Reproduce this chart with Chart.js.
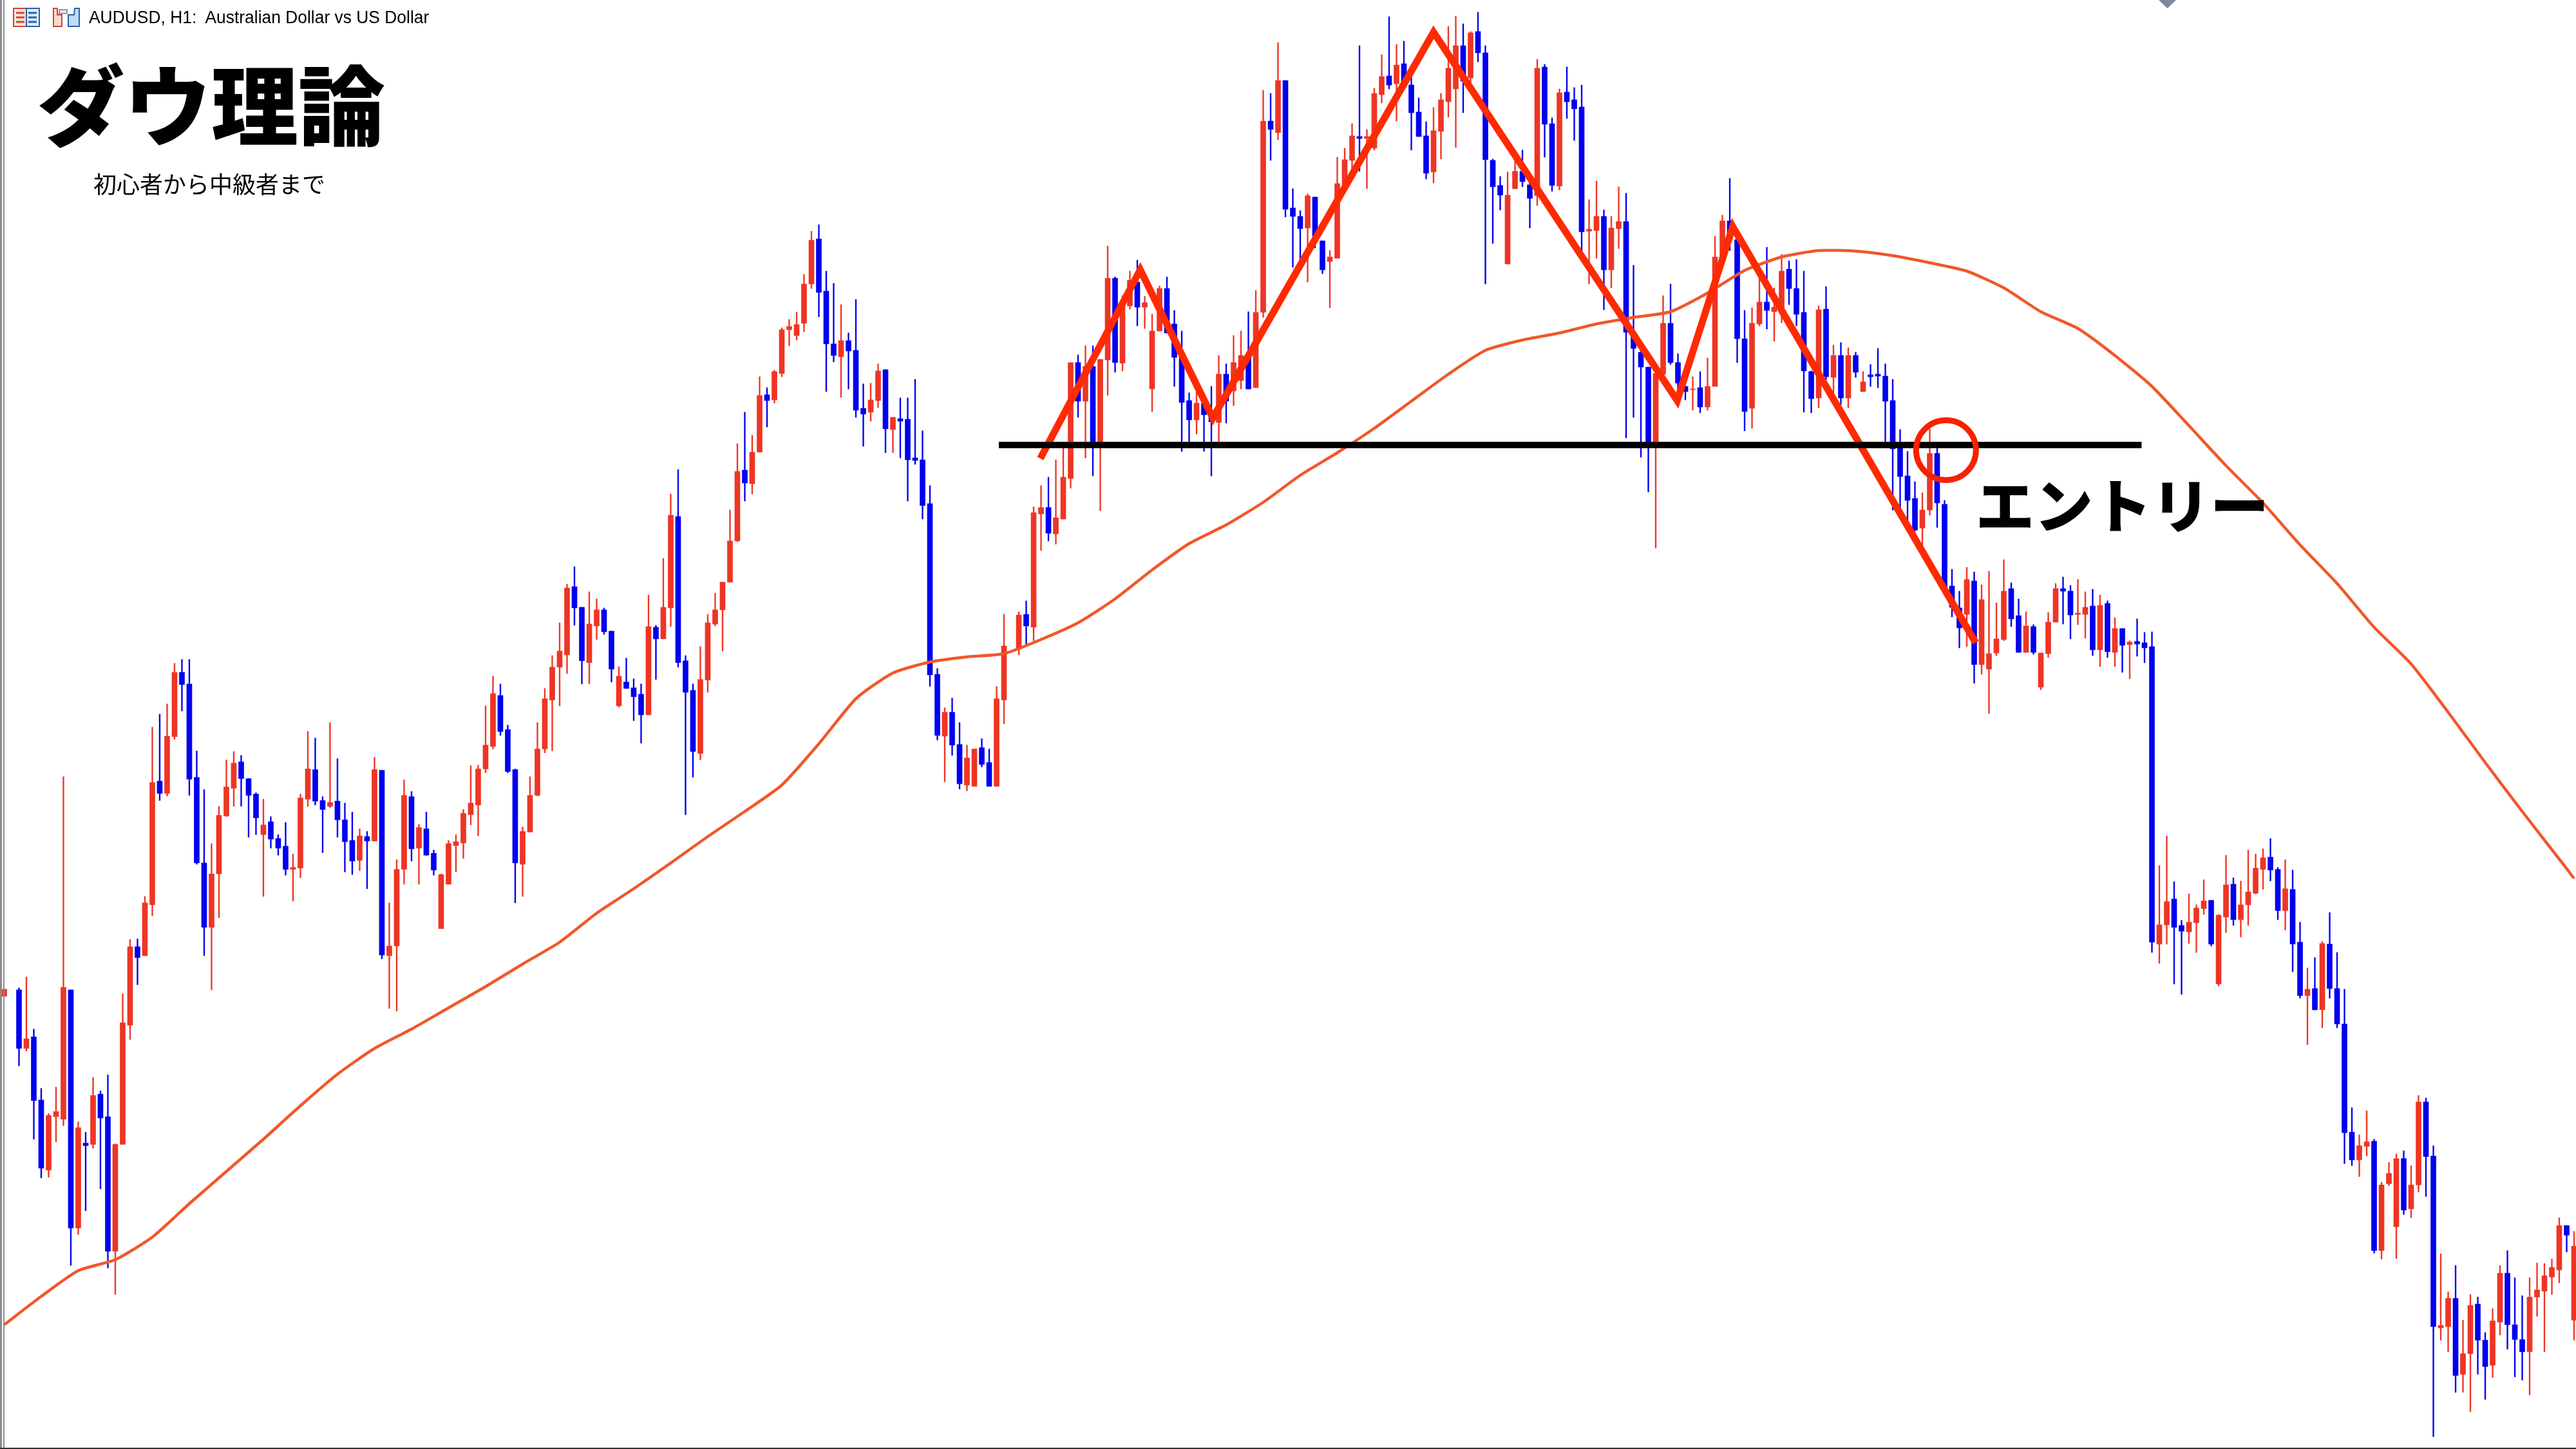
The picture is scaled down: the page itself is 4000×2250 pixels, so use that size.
<!DOCTYPE html>
<html lang="ja">
<head>
<meta charset="utf-8">
<title>AUDUSD H1</title>
<script src="https://cdn.jsdelivr.net/npm/chart.js@4/dist/chart.umd.min.js"></script>
<style>
  html, body { margin: 0; padding: 0; background: #fff; }
  #wrap { position: relative; width: 4000px; height: 2250px; overflow: hidden; background: #fff; }
  #chart { position: absolute; left: 0; top: 0; }
  .label { position: absolute; white-space: nowrap; color: #000; font-family: "Noto Sans CJK JP", sans-serif; line-height: 1; }
  #symbol { left: 138px; top: 13px; font-family: "Liberation Sans Narrow", "Liberation Sans", sans-serif; font-size: 28px; white-space: pre; transform-origin: left top; transform: scaleX(0.943); }
  #heading { left: 58px; top: 90px; font-size: 135px; font-weight: 900; }
  #sub { left: 145px; top: 266px; font-size: 36px; font-weight: 400; }
  #entry { left: 3068px; top: 735px; font-size: 91px; font-weight: 900; }
  .edge { position: absolute; background: #8a8a8a; }
  #diamond { position: absolute; left: 3352px; top: 0; width: 27px; height: 13px; background: #7a8a9c; clip-path: polygon(0 0, 100% 0, 50% 100%); }
  #icons { position: absolute; left: 20px; top: 12px; }
</style>
</head>
<body>
<div id="wrap">
  <canvas id="chart" width="4000" height="2250"></canvas>
  <div class="edge" style="left:0;top:0;width:3px;height:2250px"></div>
  <div class="edge" style="left:5px;top:0;width:2px;height:2250px"></div>
  <div class="edge" style="left:0;top:2248px;width:4000px;height:2px;background:#333"></div>
  <div id="diamond"></div>
  <svg id="icons" width="104" height="30" viewBox="0 0 104 30">
    <rect x="1" y="1" width="20" height="28" fill="#fbe3dd" stroke="#c8483a" stroke-width="2"/>
    <rect x="21" y="1" width="20" height="28" fill="#dfeefb" stroke="#2a62a8" stroke-width="2"/>
    <path d="M5 8h13M5 15h13M5 22h13" stroke="#c8483a" stroke-width="3"/>
    <path d="M24 8h13M24 15h13M24 22h13" stroke="#2a62a8" stroke-width="3"/>
    <path d="M63 1h6v10h7v18h-13z" fill="#fbd9d0" stroke="#c8483a" stroke-width="2"/>
    <path d="M96 1h7v28h-17v-18h9z" fill="#bcdcf6" stroke="#2a62a8" stroke-width="2"/>
    <rect x="72" y="3" width="12" height="6" fill="#e4e4e4" stroke="#999" stroke-width="2"/>
  </svg>
  <div class="label" id="symbol">AUDUSD, H1:  Australian Dollar vs US Dollar</div>
  <div class="label" id="heading">ダウ理論</div>
  <div class="label" id="sub">初心者から中級者まで</div>
  <div class="label" id="entry">エントリー</div>
</div>
<script>
// prices are in points above 0.70000 (1 point = 0.00001), one candle per hour
const opens = [
  703,null,713,622,640,542,433,516,512,713,
  343,475,473,551,516,307,473,658,780,766,
  845,1037,1018,1106,1206,1188,1043,910,810,893,
  983,1026,1067,1041,1017,954,974,948,936,900,
  902,1009,1055,1007,998,1006,977,945,914,951,
  944,1054,766,781,900,1013,933,963,925,808,
  877,937,941,985,1000,1056,1091,1170,1117,1055,
  908,958,1015,1087,1163,1214,1233,1339,1307,1221,
  1278,1303,1270,1154,1191,1182,1172,1140,1276,1258,
  1306,1448,1224,1178,1080,1194,1281,1303,1346,1410,
  1520,1499,1548,1637,1629,1670,1738,1729,1748,1809,
  1879,1798,1716,1696,1721,1706,1616,1610,1628,1676,
  1583,1600,1599,1539,1536,1468,1203,1107,1144,1094,
  1031,1029,1089,1066,1029,1163,null,1242,1296,1276,
  1452,1462,1421,1444,1507,1687,1627,1681,1560,1691,
  1818,1686,1775,1812,1773,1646,1736,1802,1747,1696,
  1628,1598,1624,1604,1594,1669,1643,1659,1698,1648,
  1765,2062,2044,2125,1927,1914,1896,1944,1876,1844,
  1849,1963,2001,2038,2035,2020,2103,2132,2120,2151,
  2118,2076,2039,1983,2046,2092,2112,2179,2129,2201,
  2168,2001,1962,1840,1957,1984,1963,1946,2146,2058,
  1961,2107,2095,2084,1891,1892,1914,1831,1895,1906,
  1733,1703,1680,1559,1669,1748,1687,1650,1645,1648,
  1618,1650,1850,1907,1878,1724,1616,1747,1781,1766,
  1772,1832,1802,1765,1673,1632,1770,1664,1698,1632,
  1698,1642,1668,1669,1666,1628,1556,1511,1476,1430,
  1458,1546,1467,1340,1306,1296,1348,1218,1211,1236,
  1257,1336,1294,1237,1277,1183,1235,1284,1336,1332,
  1296,1296,1309,1241,1313,1237,1274,1249,1254,1252,
  1246,784,814,854,813,803,817,839,852,722,
  826,877,822,845,863,900,919,900,836,869,
  787,704,715,682,784,715,660,492,449,470,
  478,308,412,345,451,373,410,539,455,188,
  190,234,116,148,225,169,130,197,273,193,
  170,151,236,245,267,278,347,200
];
const closes = [
  714,null,622,637,541,436,518,524,717,343,
  499,471,549,514,307,473,662,780,763,848,
  1035,1018,1107,1206,1187,1040,910,810,893,984,
  1028,1065,1041,1015,980,969,947,933,900,903,
  1011,1056,1006,993,1004,977,943,913,952,944,
  1055,767,781,900,1015,932,965,922,899,892,
  940,943,987,1003,1056,1093,1173,1114,1052,910,
  959,1015,1087,1165,1214,1239,1337,1306,1224,1281,
  1303,1269,1211,1200,1181,1168,1140,1277,1258,1307,
  1450,1221,1175,1083,1195,1283,1303,1346,1410,1518,
  1500,1548,1636,1628,1673,1738,1743,1746,1809,1877,
  1796,1716,1698,1721,1705,1613,1607,1629,1674,1584,
  1602,1596,1536,1535,1465,1202,1108,1144,1093,1033,
  1073,1087,1063,1029,1165,1247,null,1295,1278,1454,
  1462,1422,1446,1509,1687,1627,1681,1559,1692,1818,
  1687,1775,1815,1773,1780,1736,1802,1733,1695,1625,
  1598,1624,1606,1595,1669,1627,1687,1698,1646,1765,
  2062,2049,2125,1925,1914,1895,1946,1883,1831,1851,
  1965,2002,2039,2035,2038,2105,2131,2118,2149,2115,
  2075,2038,1981,2047,2095,2144,2179,2124,2199,2168,
  2002,1960,1947,1947,1984,1968,1942,2144,2057,1962,
  2106,2092,2081,1890,1894,1914,1831,1896,1906,1734,
  1709,1680,1559,1670,1748,1687,1655,1642,1646,1618,
  1650,1851,1907,1878,1724,1611,1748,1781,1768,1773,
  1829,1802,1762,1674,1631,1769,1665,1698,1632,1698,
  1672,1657,1665,1666,1627,1553,1510,1473,1427,1458,
  1546,1469,1338,1307,1275,1350,1218,1319,1235,1258,
  1332,1289,1237,1278,1237,1236,1284,1336,1332,1295,
  1298,1307,1241,1310,1238,1274,1248,1253,1250,1244,
  787,814,850,810,804,818,840,851,784,829,
  876,822,845,865,902,918,899,836,870,784,
  704,714,682,785,715,660,491,449,471,477,
  308,410,428,451,371,410,539,454,190,192,
  234,114,148,223,169,128,199,273,193,170,
  151,236,247,269,282,347,332,315
];
const highs = [
  714,null,716,733,652,560,521,562,1044,713,
  508,492,577,556,581,474,707,791,792,858,
  1121,1141,1157,1220,1226,1226,1084,1024,940,998,
  1070,1083,1077,1041,1019,1009,982,954,973,924,
  1017,1114,1104,1013,1128,1072,1003,989,963,959,
  1074,1054,848,915,1039,1021,970,989,930,893,
  945,954,993,1061,1062,1154,1200,1188,1124,1056,
  966,1044,1128,1181,1232,1283,1343,1370,1307,1331,
  1320,1306,1270,1215,1228,1196,1188,1326,1279,1383,
  1483,1521,1232,1188,1246,1296,1329,1346,1458,1561,
  1610,1574,1665,1648,1675,1741,1754,1765,1824,1891,
  1901,1829,1810,1777,1733,1785,1654,1655,1685,1676,
  1602,1632,1632,1661,1581,1496,1212,1151,1166,1128,
  1093,1087,1103,1087,1184,1296,null,1300,1317,1463,
  1496,1509,1536,1555,1687,1699,1713,1713,1692,1868,
  1820,1791,1829,1846,1790,1762,1806,1820,1768,1736,
  1640,1642,1624,1650,1698,1685,1729,1736,1766,1799,
  2110,2105,2184,2125,1957,1923,1949,1944,1876,1861,
  2006,2020,2058,2179,2049,2113,2165,2224,2181,2186,
  2132,2098,2061,2083,2105,2209,2225,2213,2201,2231,
  2179,2003,1976,1983,2003,2017,1969,2158,2150,2067,
  2112,2146,2114,2118,1940,1969,1924,1914,1960,1950,
  1838,1706,1680,1677,1791,1809,1701,1651,1665,1673,
  1694,1883,1916,1973,1889,1768,1772,1823,1866,1803,
  1855,1845,1847,1829,1674,1775,1805,1714,1718,1710,
  1703,1673,1684,1709,1685,1661,1583,1549,1502,1485,
  1584,1556,1473,1366,1332,1369,1362,1342,1363,1314,
  1381,1345,1320,1300,1280,1236,1299,1344,1354,1341,
  1350,1331,1335,1326,1317,1291,1274,1255,1289,1268,
  1269,906,952,881,821,862,845,884,852,830,
  922,887,882,930,924,932,948,903,915,899,
  818,747,763,788,833,771,714,530,488,525,
  481,414,445,458,463,440,549,545,471,303,
  244,285,200,240,236,181,218,285,308,266,
  238,266,289,288,295,359,347,338
];
const lows = [
  703,null,595,618,481,421,422,477,502,285,
  333,370,467,404,281,240,473,636,721,766,
  828,1007,1014,1102,1146,1015,908,766,713,825,
  982,998,998,950,954,858,933,922,891,851,
  887,998,1000,926,996,950,896,892,898,870,
  944,761,684,680,877,913,877,922,891,808,
  877,896,917,969,952,1050,1087,1108,1050,848,
  858,958,1014,1081,1084,1154,1204,1279,1188,1188,
  1257,1265,1191,1152,1181,1131,1096,1140,1195,1258,
  1277,1214,985,1043,1070,1175,1278,1239,1346,1409,
  1472,1483,1548,1587,1624,1665,1713,1722,1735,1802,
  1758,1642,1688,1633,1646,1602,1557,1596,1617,1547,
  1547,1539,1472,1529,1444,1184,1101,1036,1077,1025,
  1022,1029,1059,1029,1029,1126,null,1233,1247,1255,
  1395,1410,1405,1444,1492,1602,1539,1511,1457,1636,
  1672,1674,1770,1744,1740,1611,1736,1733,1650,1549,
  1564,1576,1549,1511,1564,1593,1620,1646,1646,1648,
  1757,2001,2033,1913,1835,1848,1812,1865,1825,1772,
  1849,1963,1986,1984,1957,2017,2090,2112,2062,2115,
  2017,2038,1972,1966,2003,2068,2021,2075,2118,2154,
  1809,1872,1924,1840,1957,1960,1896,1931,2006,1953,
  1955,2066,2032,1855,1809,1849,1769,1803,1864,1570,
  1602,1540,1486,1399,1669,1684,1637,1629,1613,1609,
  1613,1650,1840,1861,1687,1581,1585,1744,1739,1720,
  1749,1777,1744,1610,1609,1617,1661,1625,1622,1617,
  1664,1642,1650,1648,1559,1458,1461,1439,1425,1401,
  1450,1431,1338,1292,1244,1246,1189,1203,1142,1232,
  1255,1277,1237,1237,1234,1179,1229,1284,1281,1258,
  1280,1259,1232,1215,1229,1215,1206,1196,1231,1221,
  771,754,784,722,706,785,771,830,781,719,
  802,813,795,813,862,869,882,822,806,741,
  700,628,682,654,700,654,443,440,423,455,
  304,295,409,296,364,359,399,392,19,169,
  151,88,88,58,116,77,111,177,155,112,
  107,84,206,151,240,258,306,169
];

// moving average, read every 5th candle
const maBars = [0,5,10,15,20,25,30,35,40,45,50,55,60,65,70,75,80,85,90,95,100,105,110,115,120,125,130,135,140,145,150,155,160,165,170,175,180,185,190,195,200,205,210,215,220,225,230,235,240,245,250,255,260,265,270,275,280,285,290,295,300,305,310,315,320,325,330,335,340,345,347];
const maValues = [193,237,277,294,329,381,431,481,533,582,622,652,685,718,753,787,832,870,910,951,990,1031,1095,1165,1205,1222,1230,1235,1257,1283,1320,1365,1406,1435,1470,1512,1547,1585,1627,1669,1706,1722,1733,1747,1757,1766,1795,1830,1851,1861,1860,1853,1842,1829,1803,1766,1740,1698,1650,1589,1527,1469,1404,1344,1276,1219,1144,1066,990,916,886];

// hand drawn swing lines
const swingBars = [139.9,153.4,163.2,193,225.9,233.4,266.2];
const swingValues = [1538,1831,1601,2200,1628,1898,1252];
const neckBars = [134.3,288.6];
const neckValues = [1559,1559];
const entryBar = [262.2];
const entryValue = [1551];

const upColor = "#ee3524", downColor = "#0000f0";

const wicks = [], bodies = [], candleColors = [];
opens.forEach((o, i) => {
  if (o === null) return;
  wicks.push({ x: i, y: [lows[i], highs[i]] });
  bodies.push({ x: i, y: [o, closes[i]] });
  candleColors.push(closes[i] >= o ? upColor : downColor);
});

const toPoints = (xs, ys) => xs.map((x, i) => ({ x, y: ys[i] }));

new Chart(document.getElementById("chart").getContext("2d"), {
  type: "bar",
  data: {
    datasets: [
      { label: "wick", data: wicks, backgroundColor: candleColors, barThickness: 1.7, grouped: false, order: 6 },
      { label: "body", data: bodies, backgroundColor: candleColors, barThickness: 8, grouped: false, order: 5 },
      { type: "line", label: "MA", data: toPoints(maBars, maValues), borderColor: "#f1572a", borderWidth: 4.5, pointRadius: 0, tension: 0.2, order: 4 },
      { type: "line", label: "swing", data: toPoints(swingBars, swingValues), borderColor: "#ff2a00", borderWidth: 11, pointRadius: 0, borderJoinStyle: "miter", borderCapStyle: "butt", order: 3 },
      { type: "line", label: "neck", data: toPoints(neckBars, neckValues), borderColor: "#000", borderWidth: 10, pointRadius: 0, borderCapStyle: "butt", order: 2 },
      { type: "scatter", label: "entry", data: toPoints(entryBar, entryValue), pointStyle: "circle", pointRadius: 46.5, pointBorderWidth: 9, pointBorderColor: "#f52200", pointBackgroundColor: "transparent", order: 1 }
    ]
  },
  options: {
    responsive: false,
    animation: false,
    layout: { padding: 0, autoPadding: false },
    clip: false,
    plugins: { legend: { display: false }, tooltip: { enabled: false } },
    scales: {
      x: { type: "linear", display: false, offset: false, min: -0.565, max: 347.26, grid: { display: false } },
      y: { type: "linear", display: false, min: 0, max: 2250, grid: { display: false } }
    }
  }
});
</script>
</body>
</html>
